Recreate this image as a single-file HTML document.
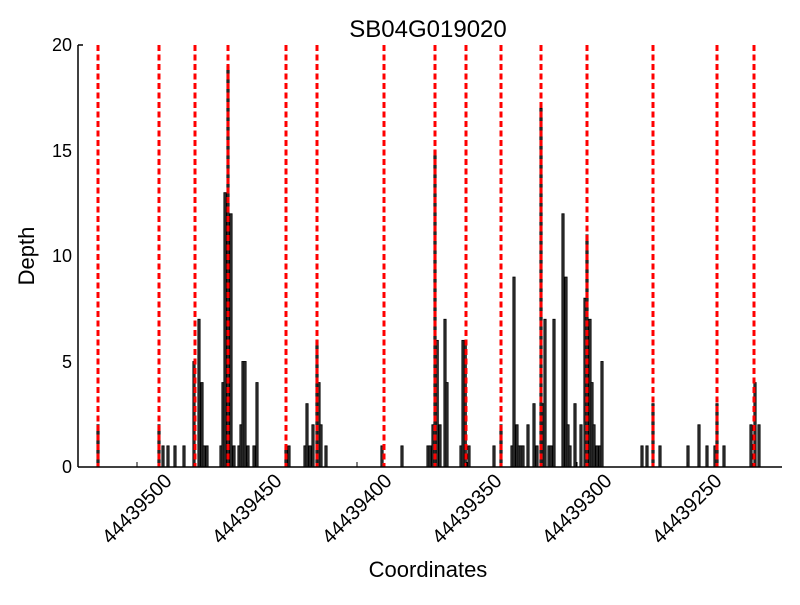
<!DOCTYPE html>
<html><head><style>body{margin:0;background:#fff}</style></head><body>
<svg width="800" height="600" xmlns="http://www.w3.org/2000/svg" font-family="Liberation Sans, sans-serif">
<rect width="800" height="600" fill="#fff"/>
<text x="428" y="37" font-size="24" text-anchor="middle">SB04G019020</text>
<text x="428" y="577" font-size="22" text-anchor="middle">Coordinates</text>
<text transform="translate(34,256) rotate(-90)" font-size="22" text-anchor="middle">Depth</text>
<g font-size="18" text-anchor="end">
<text x="72" y="473">0</text><text x="72" y="368">5</text><text x="72" y="262">10</text><text x="72" y="157">15</text><text x="72" y="51">20</text>
</g>
<g fill="#3a3a3a" stroke="#000" stroke-width="0.9">
<rect x="96.9" y="424.8" width="2.2" height="42.2"/>
<rect x="157.9" y="424.8" width="2.2" height="42.2"/>
<rect x="161.9" y="445.9" width="2.2" height="21.1"/>
<rect x="166.9" y="445.9" width="2.2" height="21.1"/>
<rect x="173.9" y="445.9" width="2.2" height="21.1"/>
<rect x="182.9" y="445.9" width="2.2" height="21.1"/>
<rect x="192.9" y="361.5" width="2.2" height="105.5"/>
<rect x="197.9" y="319.3" width="2.2" height="147.7"/>
<rect x="200.9" y="382.6" width="2.2" height="84.4"/>
<rect x="202.9" y="445.9" width="2.2" height="21.1"/>
<rect x="205.9" y="445.9" width="2.2" height="21.1"/>
<rect x="219.9" y="445.9" width="2.2" height="21.1"/>
<rect x="221.9" y="382.6" width="2.2" height="84.4"/>
<rect x="223.9" y="192.7" width="2.2" height="274.3"/>
<rect x="226.9" y="66.1" width="2.2" height="400.9"/>
<rect x="229.9" y="213.8" width="2.2" height="253.2"/>
<rect x="232.9" y="445.9" width="2.2" height="21.1"/>
<rect x="237.9" y="445.9" width="2.2" height="21.1"/>
<rect x="239.9" y="424.8" width="2.2" height="42.2"/>
<rect x="241.9" y="361.5" width="2.2" height="105.5"/>
<rect x="243.9" y="361.5" width="2.2" height="105.5"/>
<rect x="246.9" y="445.9" width="2.2" height="21.1"/>
<rect x="252.9" y="445.9" width="2.2" height="21.1"/>
<rect x="255.9" y="382.6" width="2.2" height="84.4"/>
<rect x="284.9" y="445.9" width="2.2" height="21.1"/>
<rect x="287.9" y="445.9" width="2.2" height="21.1"/>
<rect x="303.9" y="445.9" width="2.2" height="21.1"/>
<rect x="305.9" y="403.7" width="2.2" height="63.3"/>
<rect x="308.9" y="445.9" width="2.2" height="21.1"/>
<rect x="311.9" y="424.8" width="2.2" height="42.2"/>
<rect x="315.9" y="340.4" width="2.2" height="126.6"/>
<rect x="317.9" y="382.6" width="2.2" height="84.4"/>
<rect x="319.9" y="424.8" width="2.2" height="42.2"/>
<rect x="324.9" y="445.9" width="2.2" height="21.1"/>
<rect x="380.9" y="445.9" width="2.2" height="21.1"/>
<rect x="400.9" y="445.9" width="2.2" height="21.1"/>
<rect x="426.9" y="445.9" width="2.2" height="21.1"/>
<rect x="428.9" y="445.9" width="2.2" height="21.1"/>
<rect x="431.9" y="424.8" width="2.2" height="42.2"/>
<rect x="433.9" y="150.5" width="2.2" height="316.5"/>
<rect x="436.1" y="340.4" width="2.2" height="126.6"/>
<rect x="438.9" y="424.8" width="2.2" height="42.2"/>
<rect x="443.9" y="319.3" width="2.2" height="147.7"/>
<rect x="445.9" y="382.6" width="2.2" height="84.4"/>
<rect x="459.9" y="445.9" width="2.2" height="21.1"/>
<rect x="461.9" y="340.4" width="2.2" height="126.6"/>
<rect x="464.1" y="340.4" width="2.2" height="126.6"/>
<rect x="467.9" y="445.9" width="2.2" height="21.1"/>
<rect x="492.9" y="445.9" width="2.2" height="21.1"/>
<rect x="499.9" y="424.8" width="2.2" height="42.2"/>
<rect x="510.9" y="445.9" width="2.2" height="21.1"/>
<rect x="512.9" y="277.1" width="2.2" height="189.9"/>
<rect x="515.9" y="424.8" width="2.2" height="42.2"/>
<rect x="517.9" y="445.9" width="2.2" height="21.1"/>
<rect x="519.9" y="445.9" width="2.2" height="21.1"/>
<rect x="521.9" y="445.9" width="2.2" height="21.1"/>
<rect x="526.9" y="424.8" width="2.2" height="42.2"/>
<rect x="532.9" y="403.7" width="2.2" height="63.3"/>
<rect x="535.9" y="445.9" width="2.2" height="21.1"/>
<rect x="539.9" y="108.3" width="2.2" height="358.7"/>
<rect x="542.1" y="403.7" width="2.2" height="63.3"/>
<rect x="543.9" y="319.3" width="2.2" height="147.7"/>
<rect x="547.9" y="445.9" width="2.2" height="21.1"/>
<rect x="549.9" y="445.9" width="2.2" height="21.1"/>
<rect x="552.9" y="319.3" width="2.2" height="147.7"/>
<rect x="561.9" y="213.8" width="2.2" height="253.2"/>
<rect x="564.9" y="277.1" width="2.2" height="189.9"/>
<rect x="566.9" y="424.8" width="2.2" height="42.2"/>
<rect x="568.9" y="445.9" width="2.2" height="21.1"/>
<rect x="573.9" y="403.7" width="2.2" height="63.3"/>
<rect x="579.9" y="424.8" width="2.2" height="42.2"/>
<rect x="583.9" y="298.2" width="2.2" height="168.8"/>
<rect x="585.9" y="234.9" width="2.2" height="232.1"/>
<rect x="588.9" y="319.3" width="2.2" height="147.7"/>
<rect x="590.9" y="382.6" width="2.2" height="84.4"/>
<rect x="592.9" y="424.8" width="2.2" height="42.2"/>
<rect x="595.9" y="445.9" width="2.2" height="21.1"/>
<rect x="598.9" y="445.9" width="2.2" height="21.1"/>
<rect x="600.9" y="361.5" width="2.2" height="105.5"/>
<rect x="640.9" y="445.9" width="2.2" height="21.1"/>
<rect x="645.9" y="445.9" width="2.2" height="21.1"/>
<rect x="651.9" y="403.7" width="2.2" height="63.3"/>
<rect x="658.9" y="445.9" width="2.2" height="21.1"/>
<rect x="686.9" y="445.9" width="2.2" height="21.1"/>
<rect x="697.9" y="424.8" width="2.2" height="42.2"/>
<rect x="705.9" y="445.9" width="2.2" height="21.1"/>
<rect x="713.9" y="445.9" width="2.2" height="21.1"/>
<rect x="715.9" y="403.7" width="2.2" height="63.3"/>
<rect x="722.9" y="445.9" width="2.2" height="21.1"/>
<rect x="749.9" y="424.8" width="2.2" height="42.2"/>
<rect x="753.9" y="382.6" width="2.2" height="84.4"/>
<rect x="757.9" y="424.8" width="2.2" height="42.2"/>
</g>
<g stroke="#ff0000" stroke-width="3" stroke-dasharray="6,3.5">
<line x1="98" y1="45" x2="98" y2="467"/>
<line x1="159" y1="45" x2="159" y2="467"/>
<line x1="195" y1="45" x2="195" y2="467"/>
<line x1="228" y1="45" x2="228" y2="467"/>
<line x1="286" y1="45" x2="286" y2="467"/>
<line x1="317" y1="45" x2="317" y2="467"/>
<line x1="384" y1="45" x2="384" y2="467"/>
<line x1="435" y1="45" x2="435" y2="467"/>
<line x1="466" y1="45" x2="466" y2="467"/>
<line x1="501" y1="45" x2="501" y2="467"/>
<line x1="541" y1="45" x2="541" y2="467"/>
<line x1="587" y1="45" x2="587" y2="467"/>
<line x1="653" y1="45" x2="653" y2="467"/>
<line x1="717" y1="45" x2="717" y2="467"/>
<line x1="754" y1="45" x2="754" y2="467"/>
</g>
<g stroke="#000" stroke-width="1.5" fill="none">
<line x1="78" y1="45" x2="78" y2="467"/>
<line x1="78" y1="467" x2="782" y2="467"/>
<line x1="78" y1="45" x2="83" y2="45"/>
</g>
<g stroke="#000" stroke-width="1">
<line x1="137" y1="467" x2="137" y2="462"/>
<line x1="247" y1="467" x2="247" y2="462"/>
<line x1="357" y1="467" x2="357" y2="462"/>
<line x1="467" y1="467" x2="467" y2="462"/>
<line x1="577" y1="467" x2="577" y2="462"/>
<line x1="687" y1="467" x2="687" y2="462"/>
</g>
<g font-size="20" text-anchor="end">
<text transform="translate(173,482) rotate(-45)">44439500</text>
<text transform="translate(283,482) rotate(-45)">44439450</text>
<text transform="translate(393,482) rotate(-45)">44439400</text>
<text transform="translate(503,482) rotate(-45)">44439350</text>
<text transform="translate(613,482) rotate(-45)">44439300</text>
<text transform="translate(723,482) rotate(-45)">44439250</text>
</g>
</svg>
</body></html>
